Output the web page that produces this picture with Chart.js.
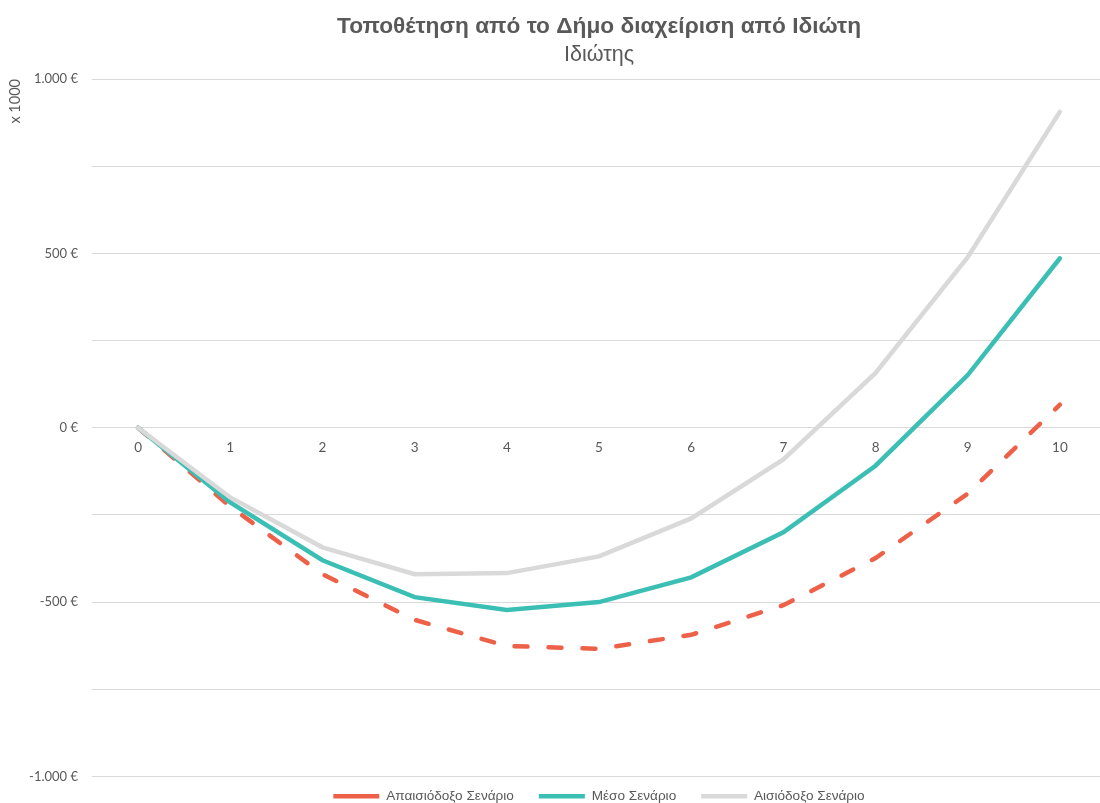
<!DOCTYPE html>
<html>
<head>
<meta charset="utf-8">
<script src="https://cdn.jsdelivr.net/npm/chart.js@4.4.0/dist/chart.umd.min.js"></script>
<style>
  html, body { margin: 0; padding: 0; background: #fff; overflow: hidden; }
  #wrap { width: 1106px; height: 803px; }
</style>
</head>
<body>
<div id="wrap"><canvas id="scenarioChart"></canvas></div>
<script>
const years = ['0', '1', '2', '3', '4', '5', '6', '7', '8', '9', '10'];
const pessimistic = [0, -226, -420, -551, -626, -634, -594, -509, -374, -189, 66];
const average = [0, -214, -380, -486, -523, -500, -429, -300, -109, 151, 486];
const optimistic = [0, -200, -343, -420, -417, -369, -260, -91, 157, 489, 906];
const yTickValues = [-1000, -500, 0, 500, 1000];
const yTickLabels = ['-1.000 €', '-500 €', '0 €', '500 €', '1.000 €'];

const textGrey = '#595959';

// legend sits a bit higher than Chart.js would put it
const legendNudge = {
    id: 'legendNudge',
    afterLayout(chart) {
        const legend = chart.legend;
        if (legend) {
            legend.top -= 12;
            legend.bottom -= 12;
        }
    },
};

document.addEventListener('DOMContentLoaded', function () {
    const ctx = document.getElementById('scenarioChart').getContext('2d');

    new Chart(ctx, {
        type: 'line',
        data: {
            labels: years,
            datasets: [
                {
                    label: 'Απαισιόδοξο Σενάριο',
                    data: pessimistic,
                    borderColor: '#EE6149',
                    backgroundColor: '#EE6149',
                    borderWidth: 4.5,
                    borderDash: [13, 21],
                    borderCapStyle: 'round',
                    pointRadius: 0,
                    tension: 0,
                    order: 3,
                },
                {
                    label: 'Μέσο Σενάριο',
                    data: average,
                    borderColor: '#3BBFB5',
                    backgroundColor: '#3BBFB5',
                    borderWidth: 4.5,
                    borderCapStyle: 'round',
                    pointRadius: 0,
                    tension: 0,
                    order: 2,
                },
                {
                    label: 'Αισιόδοξο Σενάριο',
                    data: optimistic,
                    borderColor: '#D9D9D9',
                    backgroundColor: '#D9D9D9',
                    borderWidth: 4.5,
                    borderCapStyle: 'round',
                    pointRadius: 0,
                    tension: 0,
                    order: 1,
                },
            ],
        },
        plugins: [legendNudge],
        options: {
            responsive: true,
            maintainAspectRatio: false,
            animation: false,
            layout: { padding: { top: 9, bottom: -22, left: 2, right: 0 } },
            plugins: {
                title: {
                    display: true,
                    fullSize: false,
                    text: 'Τοποθέτηση από το Δήμο διαχείριση από Ιδιώτη',
                    color: textGrey,
                    font: { family: 'Liberation Sans, Arial, sans-serif', size: 22.7, weight: 'bold' },
                    padding: { top: 4, bottom: 1 },
                },
                subtitle: {
                    display: true,
                    fullSize: false,
                    text: 'Ιδιώτης',
                    color: textGrey,
                    font: { family: 'Liberation Sans, Arial, sans-serif', size: 21.5 },
                    padding: { top: 1, bottom: 11 },
                },
                legend: {
                    position: 'bottom',
                    fullSize: false,
                    labels: {
                        usePointStyle: true,
                        pointStyle: 'line',
                        pointStyleWidth: 46,
                        color: textGrey,
                        font: { family: 'Liberation Sans, Arial, sans-serif', size: 13.6 },
                        padding: 25,
                        boxHeight: 13,
                        sort: (a, b) => a.datasetIndex - b.datasetIndex,
                    },
                },
                tooltip: { enabled: false },
            },
            scales: {
                x: {
                    position: { y: 0 },
                    offset: true,
                    grid: { display: false, drawTicks: false, offset: true },
                    border: { display: false },
                    ticks: {
                        color: textGrey,
                        font: { family: 'Lato, sans-serif', size: 13.5 },
                        padding: 12,
                        maxRotation: 0,
                    },
                },
                y: {
                    min: -1000,
                    max: 1000,
                    grid: { color: '#D9D9D9', lineWidth: 1, drawTicks: false },
                    border: { display: false },
                    afterFit: (scale) => { scale.width = 90; },
                    ticks: {
                        stepSize: 250,
                        color: textGrey,
                        font: { family: 'Lato, sans-serif', size: 13 },
                        padding: 14,
                        callback: function (value) {
                            const idx = yTickValues.indexOf(value);
                            return idx >= 0 ? yTickLabels[idx] : '';
                        },
                    },
                    title: {
                        display: true,
                        text: 'x 1000',
                        align: 'end',
                        color: textGrey,
                        font: { family: 'Lato, sans-serif', size: 14.5 },
                        padding: { top: 5, bottom: 0 },
                    },
                },
            },
        },
    });
});
</script>
</body>
</html>
